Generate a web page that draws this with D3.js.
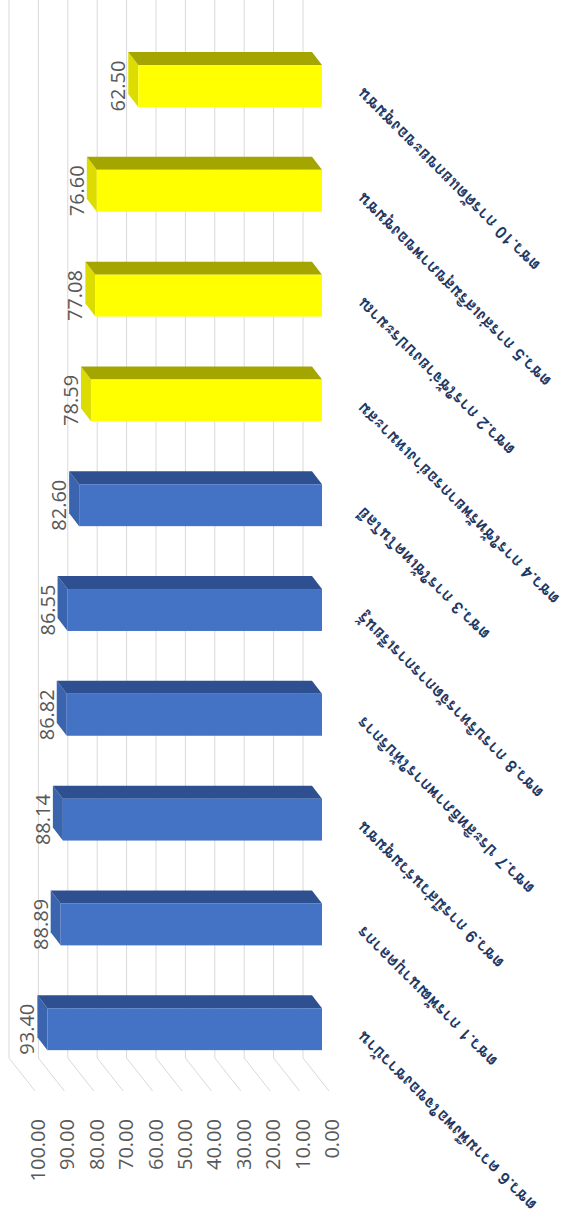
<!DOCTYPE html>
<html>
<head>
<meta charset="utf-8">
<script src="https://cdn.jsdelivr.net/npm/d3@7"></script>
<style>
  body { margin: 0; background: #fff; }
  svg { display: block; }
</style>
</head>
<body>
<script>
// chart data (the picture is an Excel 3D column chart turned on its side)
const categories = [
  'ตชว.10 การคัดแยกขยะของชุมชน',
  'ตชว.5 การส่งเสริมสุขภาพของชุมชน',
  'ตชว.2 การใช้จ่ายงบประมาณ',
  'ตชว.4 การใช้ทรัพยากรอย่างเหมาะสม',
  'ตชว.3 การใช้เทคโนโลยี',
  'ตชว.8 การบริหารจัดการการเรียนรู้',
  'ตชว.7 ประสิทธิภาพการให้บริการ',
  'ตชว.9 การมีส่วนร่วมชุมชน',
  'ตชว.1 การพัฒนาบุคลากร',
  'ตชว.6 ความพึงพอใจของชาวบ้าน'
];
const scores = [62.50, 76.60, 77.08, 78.59, 82.60, 86.55, 86.82, 88.14, 88.89, 93.40];
const groups = ['low', 'low', 'low', 'low', 'high', 'high', 'high', 'high', 'high', 'high'];
const tickValues = [0, 10, 20, 30, 40, 50, 60, 70, 80, 90, 100];

let width = 571;
let height = 1223;

// colours for each face of the bars
let faces = {
  low:  { front: '#ffff00', top: '#a5a500', side: '#dcdc00' },
  high: { front: '#4472c4', top: '#2f5090', side: '#3a64ae' }
};

let svg = d3.select('body').append('svg')
  .attr('width', width)
  .attr('height', height);

svg.append('rect').attr('width', width).attr('height', height).attr('fill', '#fff');

// value axis runs right (0) to left (100)
let x = d3.scaleLinear().domain([0, 100]).range([322, 28]);
// categories run top to bottom
let y = d3.scaleBand().domain(categories).range([33.6, 1081.6])
  .paddingInner(0.6).paddingOuter(0.3);

// 3d offsets
let depth = [-10, -13];     // back of bar compared to front
let wallDx = -19, wallBottom = 1058;
let frontDx = 7, frontBottom = 1091;

let fmt = d3.format('.2f');

// back wall gridlines
let grid = svg.append('g');
grid.selectAll('line.wall')
  .data(tickValues)
  .enter()
  .append('line')
    .attr('class', 'wall')
    .attr('x1', d => x(d) + wallDx)
    .attr('x2', d => x(d) + wallDx)
    .attr('y1', 0)
    .attr('y2', wallBottom)
    .attr('stroke', '#d9d9d9')
    .attr('stroke-width', 1);
// side wall gridlines (the slanted bits at the bottom)
grid.selectAll('line.side')
  .data(tickValues)
  .enter()
  .append('line')
    .attr('class', 'side')
    .attr('x1', d => x(d) + wallDx)
    .attr('y1', wallBottom)
    .attr('x2', d => x(d) + frontDx)
    .attr('y2', frontBottom)
    .attr('stroke', '#d9d9d9')
    .attr('stroke-width', 1);

// value axis labels
svg.append('g').selectAll('text')
  .data(tickValues)
  .enter()
  .append('text')
    .attr('transform', d => 'translate(' + (x(d) + 17) + ',1119) rotate(-90)')
    .attr('text-anchor', 'end')
    .attr('font-family', "'Open Sans', sans-serif")
    .attr('font-size', '20px')
    .attr('fill', '#595959')
    .text(d => fmt(d));

// bars
let rows = categories.map((c, i) => ({ name: c, value: scores[i], group: groups[i] }));
let bar = svg.append('g').selectAll('g')
  .data(rows)
  .enter()
  .append('g');

let pts = arr => arr.map(p => p.join(',')).join(' ');

bar.append('polygon')   // left end
  .attr('points', d => {
    let x0 = x(d.value), t = y(d.name), b = t + y.bandwidth();
    return pts([[x0, t], [x0, b], [x0 + depth[0], b + depth[1]], [x0 + depth[0], t + depth[1]]]);
  })
  .attr('fill', d => faces[d.group].side);

bar.append('polygon')   // top face
  .attr('points', d => {
    let x0 = x(d.value), x1 = x(0), t = y(d.name);
    return pts([[x0, t], [x1, t], [x1 + depth[0], t + depth[1]], [x0 + depth[0], t + depth[1]]]);
  })
  .attr('fill', d => faces[d.group].top);

bar.append('rect')      // front face
  .attr('x', d => x(d.value))
  .attr('y', d => y(d.name))
  .attr('width', d => x(0) - x(d.value))
  .attr('height', y.bandwidth())
  .attr('fill', d => faces[d.group].front);

// data labels
bar.append('text')
  .attr('transform', d => 'translate(' + (x(d.value) - 13) + ',' + (y(d.name) + y.bandwidth() / 2) + ') rotate(-90)')
  .attr('text-anchor', 'middle')
  .attr('font-family', "'Open Sans', sans-serif")
  .attr('font-size', '20px')
  .attr('fill', '#595959')
  .text(d => fmt(d.value));

// category labels, slanted
svg.append('g').selectAll('text')
  .data(categories)
  .enter()
  .append('text')
    .attr('transform', d => 'translate(364,' + (y(d) + y.bandwidth() / 2 + 1) + ') rotate(-135)')
    .attr('text-anchor', 'end')
    .attr('font-family', "Garuda, Loma, 'Noto Sans Thai Looped', 'Noto Sans Thai', sans-serif")
    .attr('font-weight', 'bold')
    .attr('font-size', '17px')
    .attr('fill', '#1f3864')
    .text(d => d);
</script>
</body>
</html>
